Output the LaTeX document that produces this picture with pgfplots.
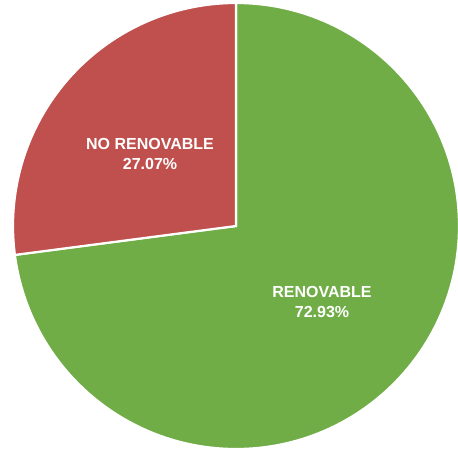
\documentclass[border=0pt]{standalone}
\usepackage{fontspec}
\setmainfont{Liberation Sans}
\usepackage{pgfplots}
\usepackage{pgfplotstable}
\pgfplotsset{compat=1.18}
\definecolor{pieRed}{HTML}{C0504D}
\definecolor{pieGreen}{HTML}{70AD47}
\pgfplotstableread{
label value
RENOVABLE 72.93
NORENOVABLE 27.07
}\piedata
\pgfplotstablegetelem{0}{value}\of\piedata\edef\va{\pgfplotsretval}%
\pgfplotstablegetelem{1}{value}\of\piedata\edef\vb{\pgfplotsretval}%
\pgfmathsetmacro\angA{90-3.6*\va}%
\pgfmathsetmacro\angB{90+3.6*\vb}%
\begin{document}%
\begin{tikzpicture}
\begin{axis}[width=458pt,height=448pt,scale only axis,
  xmin=0,xmax=458,ymin=0,ymax=448,hide axis,clip=false]
\fill[pieGreen, draw=white, line width=2.2pt, line join=miter]
  (axis cs:236,222) -- ++(90:223pt) arc[start angle=90, end angle=\angA, radius=223pt] -- cycle;
\fill[pieRed, draw=white, line width=2.2pt, line join=miter]
  (axis cs:236,222) -- ++(90:223pt) arc[start angle=90, end angle=\angB, radius=223pt] -- cycle;
\node[text=white, font=\fontsize{16}{20}\selectfont\bfseries, align=center]
  at (axis cs:150,294) {NO RENOVABLE\\\vb\%};
\node[text=white, font=\fontsize{16}{20}\selectfont\bfseries, align=center]
  at (axis cs:322,146) {RENOVABLE\\\va\%};
\coordinate (ll) at (axis cs:0,0);
\coordinate (ur) at (axis cs:458,448);
\end{axis}
\pgfresetboundingbox
\path[use as bounding box] (ll) rectangle (ur);
\end{tikzpicture}%
\end{document}
